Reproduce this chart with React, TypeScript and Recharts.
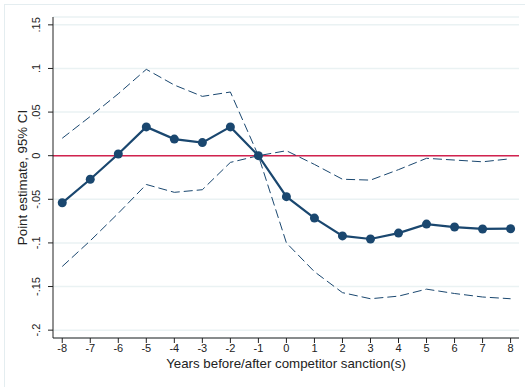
import { ComposedChart, Line, XAxis, YAxis, CartesianGrid, ReferenceLine } from 'recharts'

const years = [-8, -7, -6, -5, -4, -3, -2, -1, 0, 1, 2, 3, 4, 5, 6, 7, 8]
const estimate = [-0.054, -0.027, 0.002, 0.033, 0.019, 0.015, 0.033, 0.0, -0.047, -0.0715, -0.092, -0.0955, -0.0887, -0.0784, -0.0818, -0.084, -0.0837]
const upperCI = [0.02, 0.045, 0.071, 0.099, 0.081, 0.068, 0.073, 0.0, 0.0057, -0.010, -0.027, -0.028, -0.016, -0.003, -0.005, -0.007, -0.0035]
const lowerCI = [-0.127, -0.0975, -0.066, -0.033, -0.042, -0.039, -0.0077, 0.0, -0.100, -0.133, -0.157, -0.164, -0.161, -0.153, -0.158, -0.162, -0.164]
const yTicks = [-0.2, -0.15, -0.1, -0.05, 0, 0.05, 0.1, 0.15]

const data = years.map((year, i) => ({
  year,
  est: estimate[i],
  hi: upperCI[i],
  lo: lowerCI[i],
}))

const FONT = "'Liberation Sans', Arial, sans-serif"
const NAVY = '#1a476f'

// stata style labels: .05, -.1, 0
const fmt = (v: number) => {
  if (Math.abs(v) < 1e-9) return '0'
  const s = String(Number(v.toFixed(2)))
  return s.replace('0.', '.')
}

const YTick = (props: any) => {
  const { x, y, payload } = props
  return (
    <text
      x={x - 6}
      y={y}
      transform={`rotate(-90, ${x - 6}, ${y})`}
      textAnchor="middle"
      fontSize={11}
      fontFamily={FONT}
      fill="#222"
    >
      {fmt(payload.value)}
    </text>
  )
}

const YTitle = (props: any) => {
  const vb = props.viewBox || {}
  const cy = (vb.y ?? 17) + (vb.height ?? 321) / 2
  return (
    <text
      x={27}
      y={cy}
      transform={`rotate(-90, 27, ${cy})`}
      textAnchor="middle"
      fontSize={13.3}
      fontFamily={FONT}
      fill="#222"
    >
      Point estimate, 95% CI
    </text>
  )
}

export default function App() {
  return (
    <div style={{ position: 'absolute', left: 0, top: 0, width: 525, height: 387, background: '#fff', overflow: 'hidden' }}>
      <div style={{ position: 'absolute', left: 4, top: 4, width: 600, height: 500, border: '1px solid #e4edf0' }} />
      <div style={{ position: 'absolute', left: 0, top: 0 }}>
        <ComposedChart
          width={525}
          height={387}
          data={data}
          margin={{ top: 17, right: 6, bottom: 0, left: 0 }}
        >
          <CartesianGrid vertical={false} stroke="#eaf2f3" strokeWidth={1.5} />
          <XAxis
            type="number"
            dataKey="year"
            domain={[-8.33, 8.3]}
            ticks={years}
            interval={0}
            height={49}
            stroke="#222"
            tickLine={{ stroke: '#222' }}
            tickSize={5}
            tick={{ fontSize: 11, fontFamily: FONT, fill: '#222', dy: -1 }}
            label={{ value: 'Years before/after competitor sanction(s)', position: 'insideBottom', offset: 19, fontSize: 13.3, fontFamily: FONT, fill: '#222' }}
          />
          <YAxis
            type="number"
            domain={[-0.209, 0.159]}
            ticks={yTicks}
            interval={0}
            width={53}
            stroke="#222"
            tickSize={5}
            tick={<YTick />}
            label={<YTitle />}
          />
          <ReferenceLine y={0} stroke="#d2224f" strokeWidth={1.5} />
          <Line
            type="linear"
            dataKey="hi"
            stroke={NAVY}
            strokeWidth={1}
            strokeDasharray="9 4"
            dot={false}
            isAnimationActive={false}
          />
          <Line
            type="linear"
            dataKey="lo"
            stroke={NAVY}
            strokeWidth={1}
            strokeDasharray="9 4"
            dot={false}
            isAnimationActive={false}
          />
          <Line
            type="linear"
            dataKey="est"
            stroke={NAVY}
            strokeWidth={2.2}
            dot={{ r: 4.5, fill: NAVY, stroke: NAVY, strokeWidth: 0 }}
            isAnimationActive={false}
          />
        </ComposedChart>
      </div>
    </div>
  )
}
